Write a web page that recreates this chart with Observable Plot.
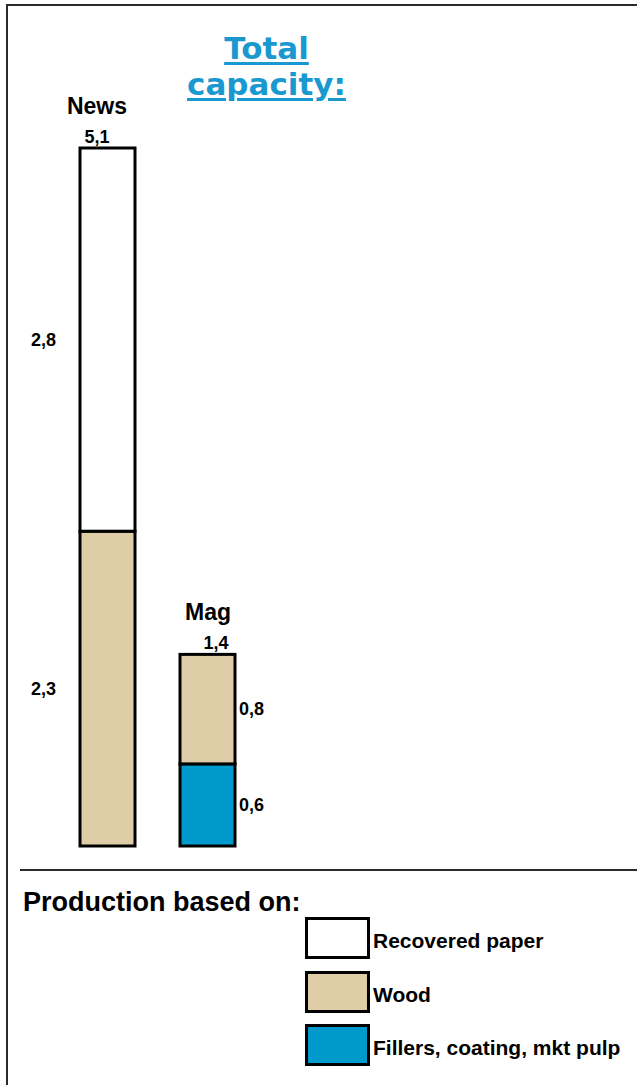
<!DOCTYPE html>
<html>
<head>
<meta charset="utf-8">
<script src="https://cdn.jsdelivr.net/npm/d3@7"></script>
<script src="https://cdn.jsdelivr.net/npm/@observablehq/plot@0.6"></script>
<style>
  html, body { margin: 0; padding: 0; background: #fff; }
  #page { position: relative; width: 637px; height: 1085px; overflow: hidden; background: #fff;
          font-family: "Liberation Sans", Arial, sans-serif; font-weight: bold; color: #000; }
  #frame { position: absolute; left: 6px; top: 4px; width: 700px; height: 1200px;
           border-top: 2px solid #2a2a2a; border-left: 2px solid #2a2a2a; }
  #chart { position: absolute; left: 0; top: 0; }
  #title { position: absolute; left: 166.5px; top: 30.3px; width: 200px; text-align: center;
           font-family: "DejaVu Sans", Verdana, sans-serif; font-weight: bold; font-size: 31px;
           line-height: 36px; color: #1a99d0;
           text-decoration: underline; text-decoration-thickness: 3px; text-underline-offset: 3px; }
  #rule { position: absolute; left: 20px; top: 869px; width: 617px; height: 2px; background: #2a2a2a; }
  #legend-title { position: absolute; left: 23px; top: 889px; font-size: 27px; line-height: 27px; white-space: nowrap; }
  .swatch { position: absolute; left: 305px; width: 65px; height: 42px; box-sizing: border-box; border: 3px solid #000; }
  .swatch-label { position: absolute; left: 373px; font-size: 21px; line-height: 21px; white-space: nowrap; }
</style>
</head>
<body>
<div id="page">
  <div id="frame"></div>
  <div id="chart"></div>
  <div id="title">Total<br>capacity:</div>
  <div id="rule"></div>
  <div id="legend-title">Production based on:</div>
  <div id="legend"></div>
</div>
<script>
// Paper grades and the raw-material sources their capacity is based on
const categories = ["News", "Mag"];
const sources = ["Recovered paper", "Wood", "Fillers, coating, mkt pulp"];
const sourceColors = ["#ffffff", "#dfcda8", "#0099cc"];

// Capacity by source, in the same order as `sources`
const newsValues = [2.8, 2.3, 0];
const magValues = [0, 0.8, 0.6];

// Stacking order from the bottom of each bar upwards
const stackOrder = ["Fillers, coating, mkt pulp", "Wood", "Recovered paper"];

const valuesByCategory = {News: newsValues, Mag: magValues};
const rows = [];
for (const src of stackOrder) {
  const i = sources.indexOf(src);
  for (const cat of categories) {
    const v = valuesByCategory[cat][i];
    if (v > 0) rows.push({category: cat, source: src, value: v});
  }
}
const totals = categories.map(cat => ({
  category: cat,
  total: Math.round(d3.sum(rows.filter(r => r.category === cat), r => r.value) * 10) / 10
}));

const fmt = v => v.toFixed(1).replace(".", ",");
const font = "Liberation Sans, Arial, sans-serif";

// Label placement per grade: segment values sit left of News, right of Mag
const segLabel = {
  News: {dx: -52, textAnchor: "end"},
  Mag: {dx: 31, textAnchor: "start"}
};
const nameShift = {News: -11, Mag: 0};
const totalShift = {News: -11, Mag: 8};

const marks = [
  Plot.barY(rows, {
    x: "category", y: "value", fill: "source",
    stroke: "#000", strokeWidth: 3, strokeLinejoin: "miter"
  })
];
for (const cat of categories) {
  const catRows = rows.filter(r => r.category === cat);
  const catTotal = totals.filter(t => t.category === cat);
  marks.push(
    Plot.text(catRows, Plot.stackY({
      x: "category", y: "value", text: d => fmt(d.value),
      dx: segLabel[cat].dx, textAnchor: segLabel[cat].textAnchor,
      fontSize: 18, fontWeight: "bold", fontFamily: font, fill: "#000"
    })),
    Plot.text(catTotal, {
      x: "category", y: "total", text: d => fmt(d.total),
      dx: totalShift[cat], dy: -6, lineAnchor: "bottom",
      fontSize: 18, fontWeight: "bold", fontFamily: font, fill: "#000"
    }),
    Plot.text(catTotal, {
      x: "category", y: "total", text: "category",
      dx: nameShift[cat], dy: -35, lineAnchor: "bottom",
      fontSize: 23, fontWeight: "bold", fontFamily: font, fill: "#000"
    })
  );
}

const chart = Plot.plot({
  width: 637,
  height: 865,
  style: {background: "transparent", overflow: "visible"},
  x: {domain: categories, range: [79.5, 235], paddingInner: 0.45, paddingOuter: 0, axis: null},
  y: {domain: [0, d3.max(totals, t => t.total)], range: [846, 148], axis: null},
  color: {domain: sources, range: sourceColors},
  marks
});
document.getElementById("chart").appendChild(chart);

// Legend swatches, one row per source
const legend = document.getElementById("legend");
const rowTops = [917, 971, 1024];
sources.forEach((src, i) => {
  const sw = document.createElement("div");
  sw.className = "swatch";
  sw.style.top = rowTops[i] + "px";
  sw.style.background = sourceColors[i];
  legend.appendChild(sw);
  const lab = document.createElement("div");
  lab.className = "swatch-label";
  lab.style.top = (rowTops[i] + 13) + "px";
  lab.textContent = src;
  legend.appendChild(lab);
});
</script>
</body>
</html>
